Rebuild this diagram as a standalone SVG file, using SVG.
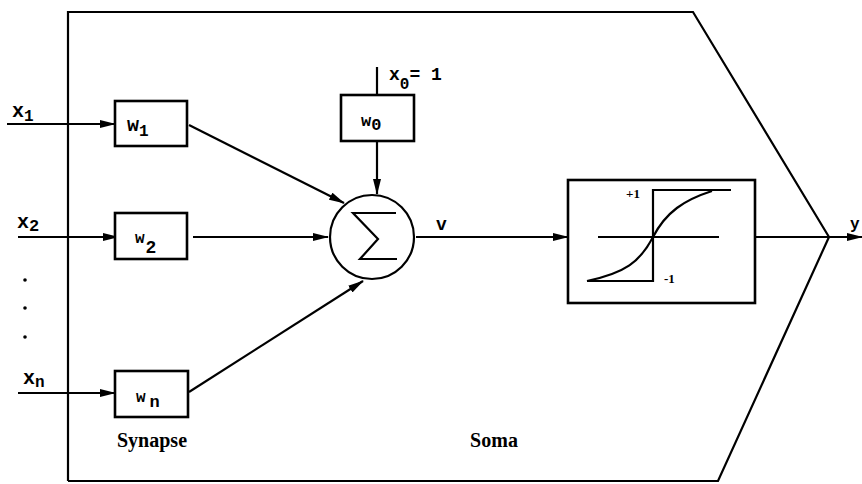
<svg xmlns="http://www.w3.org/2000/svg" width="862" height="484" viewBox="0 0 862 484">
<style>
.ln{stroke:#000;stroke-width:2.2;fill:none}
.bx{stroke:#000;stroke-width:2.6;fill:#fff}
.thin{stroke:#000;stroke-width:1.8;fill:none}
.mono{font-family:"Liberation Mono","DejaVu Sans Mono",monospace;font-weight:bold;fill:#000}
.serif{font-family:"Liberation Serif","DejaVu Serif",serif;font-weight:bold;fill:#000}
</style>
<defs>
<marker id="ah" markerWidth="16" markerHeight="8" refX="15" refY="4" orient="auto" markerUnits="userSpaceOnUse">
<path d="M0,0 L16,4 L0,8 Z" fill="#000"/>
</marker>
</defs>
<rect width="862" height="484" fill="#fff"/>
<g id="neuron-body">
<path class="ln" d="M68,481 V12 H693 L829,237 L718,481 H68"/>
</g>
<g id="connectors">
<line class="ln" x1="7" y1="124" x2="115" y2="124" marker-end="url(#ah)"/>
<line class="ln" x1="18" y1="237" x2="118" y2="237" marker-end="url(#ah)"/>
<line class="ln" x1="18" y1="393" x2="115" y2="393" marker-end="url(#ah)"/>
<line class="ln" x1="189" y1="125" x2="344" y2="203" marker-end="url(#ah)"/>
<line class="ln" x1="193" y1="237" x2="328" y2="237" marker-end="url(#ah)"/>
<line class="ln" x1="189" y1="392" x2="363" y2="281" marker-end="url(#ah)"/>
<line class="ln" x1="377" y1="67" x2="377" y2="95"/>
<line class="ln" x1="377" y1="141" x2="377" y2="194" marker-end="url(#ah)"/>
<line class="ln" x1="416" y1="237" x2="568" y2="237" marker-end="url(#ah)"/>
<line class="ln" x1="755" y1="237" x2="862" y2="237" marker-end="url(#ah)"/>
</g>
<g id="x1"><text class="mono" x="12" y="117" font-size="20">x<tspan font-size="16" dy="4">1</tspan></text></g>
<g id="x2"><text class="mono" x="17" y="228" font-size="20">x<tspan font-size="17" dy="3">2</tspan></text></g>
<g id="dots">
<circle cx="25" cy="280" r="1.8" fill="#000"/>
<circle cx="25" cy="308" r="1.8" fill="#000"/>
<circle cx="25" cy="337" r="1.8" fill="#000"/>
</g>
<g id="xn"><text class="mono" x="23" y="384" font-size="20">x<tspan font-size="16" dy="3">n</tspan></text></g>
<g id="w1">
<rect class="bx" x="115" y="101" width="72" height="45"/>
<text class="mono" x="127" y="131" font-size="20">w<tspan font-size="16" dy="5">1</tspan></text>
</g>
<g id="w2">
<rect class="bx" x="115" y="213" width="72" height="46"/>
<text class="mono" x="135" y="243" font-size="16">w<tspan font-size="18" dx="1" dy="10">2</tspan></text>
</g>
<g id="wn">
<rect class="bx" x="115" y="371" width="73" height="46"/>
<text class="mono" x="136" y="402" font-size="16">w<tspan font-size="17" dx="4" dy="5">n</tspan></text>
</g>
<g id="w0">
<rect class="bx" x="341" y="95" width="73" height="46"/>
<text class="mono" x="361" y="126" font-size="17">w<tspan font-size="17" dy="4">0</tspan></text>
</g>
<g id="x0-label"><text class="mono" x="389" y="80" font-size="18">x<tspan font-size="16" dy="9">0</tspan><tspan dy="-9">= 1</tspan></text></g>
<g id="sum">
<circle class="ln" cx="372" cy="237" r="42"/>
<path class="ln" stroke-width="2.6" d="M396,213 H353 L378,239 L360,259 H397"/>
</g>
<g id="v-label"><text class="mono" x="436" y="230" font-size="18">v</text></g>
<g id="activation">
<rect class="bx" x="568" y="180" width="187" height="123"/>
<line class="thin" x1="598" y1="237" x2="719" y2="237"/>
<path class="ln" d="M653,282 V190 H731"/>
<path class="ln" d="M587,281 H653"/>
<path class="ln" d="M587,281 C625,273 640,262 653,237 C666,212 684,200 712,191"/>
<text class="serif" x="626" y="198" font-size="13">+1</text>
<text class="serif" x="664" y="283" font-size="13">-1</text>
</g>
<g id="y-label"><text class="mono" x="850" y="229" font-size="16">y</text></g>
<g id="synapse-label"><text class="serif" x="152" y="447" font-size="20" text-anchor="middle">Synapse</text></g>
<g id="soma-label"><text class="serif" x="494" y="447" font-size="20" text-anchor="middle">Soma</text></g>
</svg>
